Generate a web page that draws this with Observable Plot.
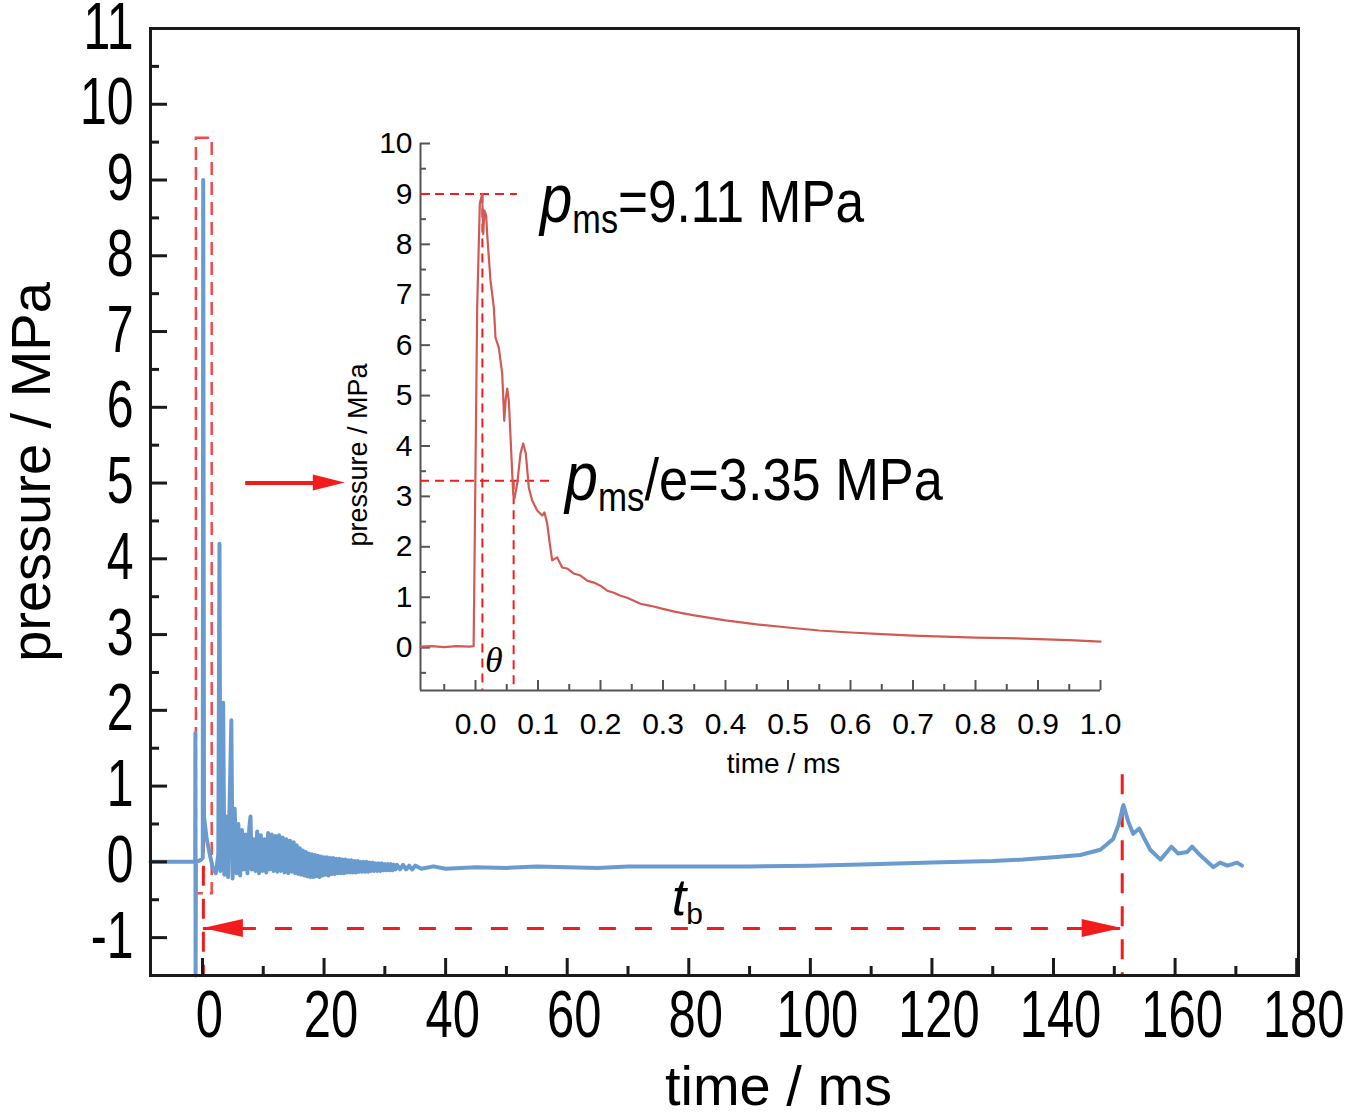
<!DOCTYPE html>
<html>
<head>
<meta charset="utf-8">
<script src="https://cdn.jsdelivr.net/npm/d3@7"></script>
<script src="https://cdn.jsdelivr.net/npm/@observablehq/plot@0.6"></script>
<style>
html, body { margin: 0; padding: 0; background: #fff; }
#wrap { position: relative; width: 1349px; height: 1115px; overflow: hidden; background: #fff; }
#wrap svg { position: absolute; }
</style>
</head>
<body>
<div id="wrap"></div>
<script>
// ---------------- data ----------------
// main trace: time (ms) and pressure (MPa)
const mainTime = [
  -8.55, -1.3, -1.2, -1.17, -1.13, -1.08, -0.4, 0.05, 0.12, 0.25, 0.7, 1.2, 1.7, 2.2, 2.6, 2.8, 2.95, 3.2, 3.4, 3.6,
  3.9, 4.2, 4.5, 4.75, 4.95, 5.3, 5.6, 5.9, 6.2, 6.5, 6.8, 7.1, 7.4, 7.7, 7.9, 8.1, 8.4, 8.7, 9.0, 9.3,
  9.6, 9.9, 10.2, 10.5, 10.8, 11.1, 11.4, 11.7, 12.0, 12.3, 12.6, 12.9, 13.2, 13.5, 13.8, 14.1, 14.4, 14.7,
  15.0, 15.25, 15.5, 15.75, 16.0, 16.25, 16.5, 16.75, 17.0, 17.25, 17.5, 17.75, 18.0, 18.25, 18.5, 18.75, 19.0, 19.25, 19.5, 19.75,
  20.0, 20.25, 20.5, 20.75, 21.0, 21.25, 21.5, 21.75, 22.0, 22.25, 22.5, 22.75, 23.0, 23.25, 23.5, 23.75, 24.0, 24.25, 24.5, 24.75,
  25.0, 25.25, 25.5, 25.75, 26.0, 26.25, 26.5, 26.75, 27.0, 27.25, 27.5, 27.75, 28.0, 28.25, 28.5, 28.75, 29.0, 29.25, 29.5, 29.75,
  30.0, 30.25, 30.5, 30.75, 31.0, 31.25, 31.5, 31.75, 32.0, 32.5, 33.0, 33.5, 34.0, 34.5, 35.0, 36, 38, 40, 45, 50,
  55, 60, 65, 70, 80, 90, 100, 110, 120, 130, 135, 140, 144.4, 147.7, 149.8, 150.7, 151.5, 152.3, 153.1, 154.1,
  154.8, 155.9, 157.6, 159.4, 160.5, 162.0, 162.8, 164.1, 166.3, 167.4, 168.6, 170.2, 171.0
];
const mainPressure = [
  0.0, 0.0, 0.01, 1.7, -1.5, 0.0, 0.02, 0.05, 9.0, 0.6, 0.3, 0.1, -0.08, -0.15, 0.1, 4.2, -0.12, 0.8, 2.1, -0.17,
  0.6, -0.2, 0.9, 1.87, -0.22, 0.7, -0.15, 0.5, -0.18, 0.42, -0.1, 0.36, -0.15, 0.45, 0.6, -0.1, 0.3, -0.12, 0.4, -0.15,
  0.35, -0.12, 0.3, -0.14, 0.38, -0.1, 0.36, -0.12, 0.34, -0.13, 0.35, -0.12, 0.32, -0.14, 0.3, -0.15, 0.28, -0.13,
  0.26, -0.15, 0.22, -0.16, 0.18, -0.17, 0.15, -0.18, 0.13, -0.19, 0.11, -0.2, 0.1, -0.2, 0.09, -0.19, 0.08, -0.2, 0.07, -0.18,
  0.06, -0.17, 0.06, -0.18, 0.05, -0.16, 0.05, -0.16, 0.04, -0.15, 0.04, -0.15, 0.03, -0.15, 0.03, -0.14, 0.02, -0.14, 0.02, -0.14,
  0.01, -0.14, 0.01, -0.13, 0.0, -0.13, 0.0, -0.13, 0.0, -0.13, -0.01, -0.12, -0.01, -0.12, -0.02, -0.12, -0.02, -0.12, -0.02, -0.11,
  -0.03, -0.11, -0.03, -0.11, -0.03, -0.11, -0.04, -0.1, -0.04, -0.1, -0.04, -0.1, -0.05, -0.1, -0.05, -0.09, -0.06, -0.09, -0.07, -0.08,
  -0.06, -0.07, -0.08, -0.06, -0.06, -0.06, -0.05, -0.03, -0.01, 0.01, 0.03, 0.06, 0.09, 0.16, 0.30, 0.49, 0.75, 0.53, 0.37, 0.44,
  0.33, 0.16, 0.03, 0.2, 0.11, 0.13, 0.2, 0.09, -0.07, -0.01, -0.05, -0.01, -0.05
];

// inset trace: time (ms) and pressure (MPa)
const insetTime = [
  -0.088, -0.07, -0.05, -0.03, -0.01, -0.003, 0.0027, 0.0069, 0.008, 0.0107, 0.0123, 0.0144, 0.0171, 0.0187, 0.024, 0.0293, 0.032, 0.0373, 0.0427, 0.046,
  0.0485, 0.0507, 0.0533, 0.0571, 0.0603, 0.0624, 0.0667, 0.072, 0.0763, 0.0805, 0.0853, 0.0907, 0.0987, 0.1067, 0.1104, 0.1147, 0.1189, 0.1227, 0.1307, 0.1387,
  0.1467, 0.1573, 0.168, 0.1787, 0.1893, 0.2, 0.2107, 0.2213, 0.232, 0.2427, 0.2533, 0.264, 0.28, 0.3, 0.32, 0.35, 0.38, 0.4, 0.45, 0.5,
  0.55, 0.6, 0.65, 0.7, 0.75, 0.8, 0.85, 0.9, 0.95, 1.0
];
const insetPressure = [
  0.02, 0.03, 0.01, 0.03, 0.02, 0.03, 6.75, 8.8, 8.87, 9.0, 8.2, 8.67, 8.57, 8.2, 7.28, 6.75, 6.15, 5.95, 5.44, 4.5,
  4.95, 5.14, 4.9, 3.9, 3.05, 2.96, 3.25, 3.85, 4.05, 3.85, 3.17, 2.92, 2.72, 2.62, 2.68, 2.46, 2.06, 1.73, 1.79, 1.59,
  1.57, 1.47, 1.43, 1.33, 1.29, 1.23, 1.13, 1.09, 1.03, 0.99, 0.93, 0.87, 0.83, 0.77, 0.71, 0.64, 0.58, 0.54, 0.46, 0.40,
  0.34, 0.30, 0.27, 0.24, 0.22, 0.20, 0.19, 0.17, 0.15, 0.12
];

// ticks
const mainXTicks = [0, 20, 40, 60, 80, 100, 120, 140, 160, 180];
const mainXMinor = [10, 30, 50, 70, 90, 110, 130, 150, 170];
const mainYTicks = [-1, 0, 1, 2, 3, 4, 5, 6, 7, 8, 9, 10, 11];
const mainYMinor = [-0.5, 0.5, 1.5, 2.5, 3.5, 4.5, 5.5, 6.5, 7.5, 8.5, 9.5, 10.5];
const insetXTicks = [0.0, 0.1, 0.2, 0.3, 0.4, 0.5, 0.6, 0.7, 0.8, 0.9, 1.0];
const insetXMinor = [-0.05, 0.05, 0.15, 0.25, 0.35, 0.45, 0.55, 0.65, 0.75, 0.85, 0.95];
const insetYTicks = [0, 1, 2, 3, 4, 5, 6, 7, 8, 9, 10];
const insetYMinor = [-0.5, 0.5, 1.5, 2.5, 3.5, 4.5, 5.5, 6.5, 7.5, 8.5, 9.5];

// domains
const mainXDomain = [-8.55, 180.3];
const mainYDomain = [-1.5, 11];
const insetXDomain = [-0.088, 1.0];
const insetYDomain = [-0.85, 10];

// annotations (data units)
const tbStart = 0.15, tbEnd = 151.3, tbLevel = -0.88;
const tbMarkTop = [1.25, 1.15];
const zoomBoxTime = [-1.0, 1.6], zoomBoxPressure = [-0.42, 9.55];
const pointerTime = [7.1, 23.5], pointerLevel = 5.0;
const pmsLevel = 9.0, pmsTime = 0.011, pmsLineEnd = 0.067;
const pmsELevel = 3.31, pmsETime = 0.061, pmsELineEnd = 0.123;
const labelTexts = ["=9.11 MPa", "/e=3.35 MPa"];
const labelTime = [0.104, 0.144];
const labelPressure = [8.43, 2.92];
const thetaPos = [0.030, -0.5];
const tbLabelPos = [77.3, -0.71];

// ---------------- styling ----------------
const RED = "#f31c1c";
const BLUE = "#6a9bcf";
const INSET_RED = "#d25a55";
const FONT = "'Liberation Sans', Arial, Helvetica, sans-serif";

const mainData = mainTime.map((t, i) => ({t, p: mainPressure[i]}));
const insetData = insetTime.map((t, i) => ({t, p: insetPressure[i]}));

function arrowHeads(heads) {
  return (index, scales) => {
    const g = d3.create("svg:g");
    for (const h of heads) {
      const x = scales.x(h.t), y = scales.y(h.p);
      const bx = x - h.dir * h.len;
      g.append("path")
        .attr("d", `M${x},${y}L${bx},${y - h.half}L${bx},${y + h.half}Z`)
        .attr("fill", RED);
    }
    return g.node();
  };
}

function richText(items) {
  return (index, scales) => {
    const g = d3.create("svg:g");
    for (const it of items) {
      const holder = g.append("g")
        .attr("transform", `translate(${scales.x(it.t)},${scales.y(it.p)}) scale(${it.sx || 1},1)`);
      const text = holder.append("text")
        .attr("x", 0)
        .attr("y", 0)
        .attr("font-family", FONT)
        .attr("text-anchor", it.anchor || "start")
        .attr("fill", "#000");
      let prev = 0;
      for (const part of it.parts) {
        const ts = text.append("tspan").text(part.text).attr("font-size", part.size);
        if (part.italic) ts.attr("font-style", "italic");
        if (part.family) ts.attr("font-family", part.family);
        const shift = part.shift || 0;
        if (shift !== prev) ts.attr("dy", shift - prev);
        prev = shift;
      }
    }
    return g.node();
  };
}

// ---------------- main chart ----------------
const main = Plot.plot({
  width: 1349,
  height: 1115,
  marginLeft: 150,
  marginRight: 51,
  marginTop: 28,
  marginBottom: 140,
  x: {domain: mainXDomain},
  y: {domain: mainYDomain},
  style: {fontFamily: FONT, background: "transparent", overflow: "visible", color: "#000"},
  marks: [
    // zoom box
    Plot.rect([{a: zoomBoxTime[0], b: zoomBoxTime[1], c: zoomBoxPressure[0], d: zoomBoxPressure[1]}],
      {x1: "a", x2: "b", y1: "c", y2: "d", fill: "none", stroke: RED, strokeWidth: 2.5, strokeDasharray: "13,7", strokeOpacity: 0.8}),
    // t_b vertical markers
    Plot.ruleX([{t: tbStart, a: tbMarkTop[0], b: mainYDomain[0]}, {t: tbEnd, a: tbMarkTop[1], b: mainYDomain[0]}],
      {x: "t", y1: "a", y2: "b", stroke: RED, strokeWidth: 3, strokeDasharray: "20,13"}),
    // main trace
    Plot.line(mainData, {x: "t", y: "p", stroke: BLUE, strokeWidth: 4, strokeLinejoin: "round"}),
    // t_b dashed arrow
    Plot.ruleY([{p: tbLevel, a: tbStart, b: tbEnd}], {y: "p", x1: "a", x2: "b", stroke: RED, strokeWidth: 3, strokeDasharray: "17,19"}),
    // pointer arrow to inset
    Plot.ruleY([{p: pointerLevel, a: pointerTime[0], b: pointerTime[1] - 3}], {y: "p", x1: "a", x2: "b", stroke: RED, strokeWidth: 4}),
    arrowHeads([
      {t: tbStart, p: tbLevel, dir: -1, len: 40, half: 9},
      {t: tbEnd, p: tbLevel, dir: 1, len: 40, half: 9},
      {t: pointerTime[1], p: pointerLevel, dir: 1, len: 32, half: 8}
    ]),
    // ticks (inward)
    Plot.tickX(mainXTicks, {insetTop: 930, stroke: "#1a1a1a", strokeWidth: 3}),
    Plot.tickX(mainXMinor, {insetTop: 938, stroke: "#1a1a1a", strokeWidth: 3}),
    Plot.tickY(mainYTicks, {insetRight: 1131, stroke: "#1a1a1a", strokeWidth: 3}),
    Plot.tickY(mainYMinor, {insetRight: 1139, stroke: "#1a1a1a", strokeWidth: 3}),
    Plot.frame({stroke: "#1a1a1a", strokeWidth: 3}),
    // tick labels
    Plot.axisX(mainXTicks, {tickSize: 0, tickPadding: 14, fontSize: 67, dx: 7, tickFormat: d => String(d), label: null}),
    Plot.axisY(mainYTicks, {tickSize: 0, tickPadding: 17, fontSize: 66, dy: -1, tickFormat: d => String(d), label: null}),
    // axis titles
    Plot.text(["pressure / MPa"], {frameAnchor: "left", textAnchor: "middle", rotate: -90, dx: -118, dy: -30, fontSize: 56, fill: "#000"}),
    Plot.text(["time / ms"], {frameAnchor: "bottom", textAnchor: "middle", dx: 54, dy: 129, fontSize: 56, fill: "#000"}),
    // t_b label
    richText([{t: tbLabelPos[0], p: tbLabelPos[1], parts: [
      {text: "t", size: 52, italic: true},
      {text: "b", size: 30, shift: 9}
    ]}])
  ]
});
main.style.left = "0px";
main.style.top = "0px";
document.getElementById("wrap").appendChild(main);

// narrow (condensed) look of the big tick labels: squeeze each label horizontally about its anchor
function squeeze(selector, k, anchorFrac) {
  main.querySelectorAll(selector).forEach(t => {
    const b = t.getBBox();
    const cx = b.x + b.width * anchorFrac;
    const tr = t.getAttribute("transform") || "";
    t.setAttribute("transform", `${tr} translate(${cx},0) scale(${k},1) translate(${-cx},0)`);
  });
}
squeeze('g[aria-label="x-axis tick label"] text', 0.73, 0.5);
squeeze('g[aria-label="y-axis tick label"] text', 0.73, 1.0);

// ---------------- inset chart ----------------
const inset = Plot.plot({
  width: 800,
  height: 680,
  marginLeft: 90,
  marginRight: 30,
  marginTop: 23,
  marginBottom: 110,
  x: {domain: insetXDomain},
  y: {domain: insetYDomain},
  style: {fontFamily: FONT, background: "transparent", overflow: "visible", color: "#000"},
  marks: [
    // axis lines
    Plot.ruleX([insetXDomain[0]], {stroke: "#555", strokeWidth: 2}),
    Plot.ruleY([insetYDomain[0]], {stroke: "#555", strokeWidth: 2}),
    Plot.tickX(insetXTicks, {insetTop: 537, stroke: "#555", strokeWidth: 2}),
    Plot.tickX(insetXMinor, {insetTop: 541, stroke: "#555", strokeWidth: 2}),
    Plot.tickY(insetYTicks, {insetRight: 670, stroke: "#555", strokeWidth: 2}),
    Plot.tickY(insetYMinor, {insetRight: 674, stroke: "#555", strokeWidth: 2}),
    Plot.axisX(insetXTicks, {tickSize: 0, tickPadding: 22, fontSize: 30, tickFormat: d3.format(".1f"), label: null}),
    Plot.axisY(insetYTicks, {tickSize: 0, tickPadding: 8, fontSize: 30, tickFormat: d => String(d), label: null}),
    // dashed guides
    Plot.ruleY([{p: pmsLevel, a: insetXDomain[0], b: pmsLineEnd}, {p: pmsELevel, a: insetXDomain[0], b: pmsELineEnd}],
      {y: "p", x1: "a", x2: "b", stroke: RED, strokeWidth: 2, strokeDasharray: "9,6"}),
    Plot.ruleX([{t: pmsTime, a: pmsLevel, b: insetYDomain[0]}, {t: pmsETime, a: pmsELevel, b: insetYDomain[0]}],
      {x: "t", y1: "a", y2: "b", stroke: RED, strokeWidth: 2, strokeDasharray: "9,6"}),
    // inset trace
    Plot.line(insetData, {x: "t", y: "p", stroke: INSET_RED, strokeWidth: 2.2, strokeLinejoin: "round"}),
    // axis titles
    Plot.text(["pressure / MPa"], {frameAnchor: "left", textAnchor: "middle", rotate: -90, dx: -62, dy: 38, fontSize: 27, fill: "#000"}),
    Plot.text(["time / ms"], {frameAnchor: "bottom", textAnchor: "middle", dx: 23, dy: 82, fontSize: 28, fill: "#000"}),
    // annotations
    richText([
      {t: labelTime[0], p: labelPressure[0], sx: 0.856, parts: [
        {text: "p", size: 68, italic: true},
        {text: "ms", size: 40, shift: 11},
        {text: labelTexts[0], size: 60, shift: 0}
      ]},
      {t: labelTime[1], p: labelPressure[1], sx: 0.873, parts: [
        {text: "p", size: 68, italic: true},
        {text: "ms", size: 40, shift: 11},
        {text: labelTexts[1], size: 60, shift: 0}
      ]},
      {t: thetaPos[0], p: thetaPos[1], anchor: "middle", parts: [
        {text: "θ", size: 36, italic: true, family: "'Liberation Serif', 'DejaVu Serif', serif"}
      ]}
    ])
  ]
});
inset.style.left = "330px";
inset.style.top = "120px";
document.getElementById("wrap").appendChild(inset);
</script>
</body>
</html>
